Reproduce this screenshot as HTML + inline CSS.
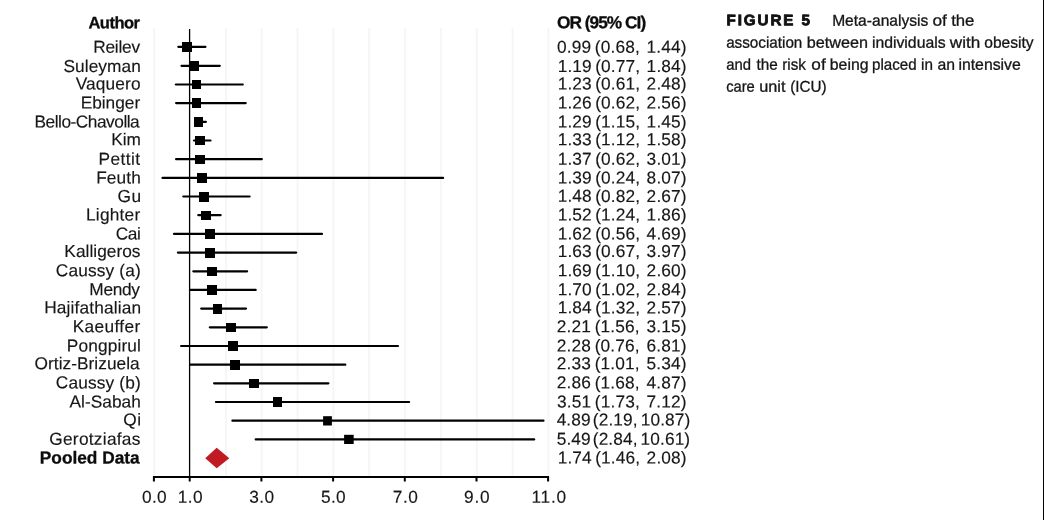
<!DOCTYPE html>
<html><head><meta charset="utf-8"><title>Figure 5</title>
<style>
html,body{margin:0;padding:0;background:#fff;}
body{width:1044px;height:520px;overflow:hidden;position:relative;}
svg{position:absolute;left:0;top:0;display:block;}
text{font-family:"Liberation Sans",sans-serif;fill:#161616;stroke:#161616;stroke-width:0.15px;font-size:17.3px;white-space:pre;}
.b{font-weight:bold;font-size:16.5px;fill:#0c0c0c;stroke:#0c0c0c;stroke-width:0.3px;stroke-linejoin:round;}
.b2{font-size:17.3px;}
.c{font-size:15.7px;fill:#151515;stroke:#151515;stroke-width:0.3px;}
.cb{font-size:15.2px;font-weight:bold;fill:#111;stroke:#111;stroke-width:0.85px;stroke-linejoin:round;}
</style></head><body>
<svg width="1044" height="520" viewBox="0 0 1044 520">
<rect width="1044" height="520" fill="#fff"/>

<line x1="154.2" y1="28" x2="154.2" y2="476" stroke="#f6f6f6" stroke-width="2"/>
<line x1="225.9" y1="28" x2="225.9" y2="476" stroke="#f6f6f6" stroke-width="2"/>
<line x1="261.7" y1="28" x2="261.7" y2="476" stroke="#f6f6f6" stroke-width="2"/>
<line x1="297.6" y1="28" x2="297.6" y2="476" stroke="#f6f6f6" stroke-width="2"/>
<line x1="333.4" y1="28" x2="333.4" y2="476" stroke="#f6f6f6" stroke-width="2"/>
<line x1="369.2" y1="28" x2="369.2" y2="476" stroke="#f6f6f6" stroke-width="2"/>
<line x1="405.1" y1="28" x2="405.1" y2="476" stroke="#f6f6f6" stroke-width="2"/>
<line x1="440.9" y1="28" x2="440.9" y2="476" stroke="#f6f6f6" stroke-width="2"/>
<line x1="476.8" y1="28" x2="476.8" y2="476" stroke="#f6f6f6" stroke-width="2"/>
<line x1="512.6" y1="28" x2="512.6" y2="476" stroke="#f6f6f6" stroke-width="2"/>
<line x1="548.4" y1="28" x2="548.4" y2="476" stroke="#f6f6f6" stroke-width="2"/>
<line x1="189.6" y1="29" x2="189.6" y2="477" stroke="#000" stroke-width="1.3"/>
<path d="M153.9 481.5V477H548.1V481.5" fill="none" stroke="#000" stroke-width="2"/>
<line x1="189.7" y1="477" x2="189.7" y2="481.5" stroke="#000" stroke-width="2"/>
<line x1="261.4" y1="477" x2="261.4" y2="481.5" stroke="#000" stroke-width="2"/>
<line x1="333.1" y1="477" x2="333.1" y2="481.5" stroke="#000" stroke-width="2"/>
<line x1="404.8" y1="477" x2="404.8" y2="481.5" stroke="#000" stroke-width="2"/>
<line x1="476.5" y1="477" x2="476.5" y2="481.5" stroke="#000" stroke-width="2"/>
<line x1="178.3" y1="46.8" x2="205.5" y2="46.8" stroke="#000" stroke-width="2.2" stroke-linecap="round"/>
<rect x="182" y="42" width="10.0" height="10.0" fill="#000"/>
<line x1="181.5" y1="65.8" x2="219.8" y2="65.8" stroke="#000" stroke-width="2.2" stroke-linecap="round"/>
<rect x="189" y="61" width="10.0" height="10.0" fill="#000"/>
<line x1="175.8" y1="84.5" x2="242.8" y2="84.5" stroke="#000" stroke-width="2.2" stroke-linecap="round"/>
<rect x="192" y="80" width="9.0" height="9.0" fill="#000"/>
<line x1="176.1" y1="103.1" x2="245.7" y2="103.1" stroke="#000" stroke-width="2.2" stroke-linecap="round"/>
<rect x="192" y="98" width="9.0" height="10.0" fill="#000"/>
<line x1="195.1" y1="121.8" x2="205.9" y2="121.8" stroke="#000" stroke-width="2.2" stroke-linecap="round"/>
<rect x="194" y="117" width="9.0" height="10.0" fill="#000"/>
<line x1="194.0" y1="140.5" x2="210.5" y2="140.5" stroke="#000" stroke-width="2.2" stroke-linecap="round"/>
<rect x="195" y="136" width="10.0" height="9.0" fill="#000"/>
<line x1="176.1" y1="159.2" x2="261.8" y2="159.2" stroke="#000" stroke-width="2.2" stroke-linecap="round"/>
<rect x="195" y="155" width="10.0" height="9.0" fill="#000"/>
<line x1="162.5" y1="177.9" x2="443.1" y2="177.9" stroke="#000" stroke-width="2.2" stroke-linecap="round"/>
<rect x="197" y="173" width="10.0" height="10.0" fill="#000"/>
<line x1="183.3" y1="196.5" x2="249.6" y2="196.5" stroke="#000" stroke-width="2.2" stroke-linecap="round"/>
<rect x="199" y="192" width="10.0" height="10.0" fill="#000"/>
<line x1="198.3" y1="215.2" x2="220.6" y2="215.2" stroke="#000" stroke-width="2.2" stroke-linecap="round"/>
<rect x="201" y="211" width="10.0" height="9.0" fill="#000"/>
<line x1="174.0" y1="233.9" x2="322.0" y2="233.9" stroke="#000" stroke-width="2.2" stroke-linecap="round"/>
<rect x="205" y="229" width="10.0" height="10.0" fill="#000"/>
<line x1="177.9" y1="252.6" x2="296.2" y2="252.6" stroke="#000" stroke-width="2.2" stroke-linecap="round"/>
<rect x="205" y="248" width="10.0" height="10.0" fill="#000"/>
<line x1="193.3" y1="271.3" x2="247.1" y2="271.3" stroke="#000" stroke-width="2.2" stroke-linecap="round"/>
<rect x="207" y="267" width="10.0" height="9.0" fill="#000"/>
<line x1="190.5" y1="289.9" x2="255.7" y2="289.9" stroke="#000" stroke-width="2.2" stroke-linecap="round"/>
<rect x="207" y="285" width="10.0" height="10.0" fill="#000"/>
<line x1="201.2" y1="308.6" x2="246.0" y2="308.6" stroke="#000" stroke-width="2.2" stroke-linecap="round"/>
<rect x="213" y="304" width="9.0" height="10.0" fill="#000"/>
<line x1="209.8" y1="327.3" x2="266.8" y2="327.3" stroke="#000" stroke-width="2.2" stroke-linecap="round"/>
<rect x="226" y="323" width="10.0" height="9.0" fill="#000"/>
<line x1="181.1" y1="346.0" x2="398.0" y2="346.0" stroke="#000" stroke-width="2.2" stroke-linecap="round"/>
<rect x="228" y="341" width="10.0" height="10.0" fill="#000"/>
<line x1="190.1" y1="364.7" x2="345.3" y2="364.7" stroke="#000" stroke-width="2.2" stroke-linecap="round"/>
<rect x="230" y="360" width="10.0" height="10.0" fill="#000"/>
<line x1="214.1" y1="383.3" x2="328.4" y2="383.3" stroke="#000" stroke-width="2.2" stroke-linecap="round"/>
<rect x="249" y="379" width="10.0" height="9.0" fill="#000"/>
<line x1="215.9" y1="402.0" x2="409.1" y2="402.0" stroke="#000" stroke-width="2.2" stroke-linecap="round"/>
<rect x="273" y="397" width="9.0" height="10.0" fill="#000"/>
<line x1="232.4" y1="420.7" x2="543.5" y2="420.7" stroke="#000" stroke-width="2.2" stroke-linecap="round"/>
<rect x="323.1" y="416.2" width="8.8" height="9.3" fill="#000"/>
<line x1="255.7" y1="439.4" x2="534.2" y2="439.4" stroke="#000" stroke-width="2.2" stroke-linecap="round"/>
<rect x="344.1" y="434.8" width="9.6" height="9.2" fill="#000"/>
<polygon points="205.2,458.2 216.7,447.7 229.3,458.2 216.7,468.3" fill="#c01a22"/>
<text id="LH" class="b" transform="rotate(0.03 114 28)" x="88.45" y="28.20" letter-spacing="-0.500">Author</text>
<text id="RH" class="b b2" transform="rotate(0.03 602 28)" x="557.00" y="28.20" letter-spacing="-0.975">OR (95% CI)</text>
<text id="L0" transform="rotate(0.03 117 53)" x="93.25" y="52.80" letter-spacing="-0.250">Reilev</text>
<text id="R0" transform="rotate(0.03 622 53)" x="557.00" y="52.80" letter-spacing="0.150" word-spacing="0.125">0.99<tspan dx="-1.5"> (0.68,</tspan><tspan dx="1.5"> 1.44)</tspan></text>
<text id="L1" transform="rotate(0.03 102 72)" x="63.45" y="72.10" letter-spacing="0.071">Suleyman</text>
<text id="R1" transform="rotate(0.03 622 72)" x="557.65" y="72.10" letter-spacing="0.150" word-spacing="-0.125">1.19<tspan dx="-1.5"> (0.77,</tspan><tspan dx="1.5"> 1.84)</tspan></text>
<text id="L2" transform="rotate(0.03 108 90)" x="75.70" y="89.60" letter-spacing="0.125">Vaquero</text>
<text id="R2" transform="rotate(0.03 622 90)" x="557.65" y="89.60" letter-spacing="0.150" word-spacing="-0.125">1.23<tspan dx="-1.5"> (0.61,</tspan><tspan dx="1.5"> 2.48)</tspan></text>
<text id="L3" transform="rotate(0.03 111 109)" x="80.65" y="108.60" letter-spacing="0.000">Ebinger</text>
<text id="R3" transform="rotate(0.03 622 109)" x="557.65" y="108.60" letter-spacing="0.150" word-spacing="-0.125">1.26<tspan dx="-1.5"> (0.62,</tspan><tspan dx="1.5"> 2.56)</tspan></text>
<text id="L4" transform="rotate(0.03 88 128)" x="34.55" y="127.55" letter-spacing="-0.481">Bello-Chavolla</text>
<text id="R4" transform="rotate(0.03 622 128)" x="557.65" y="127.55" letter-spacing="0.150" word-spacing="-0.125">1.29<tspan dx="-1.5"> (1.15,</tspan><tspan dx="1.5"> 1.45)</tspan></text>
<text id="L5" transform="rotate(0.03 126 145)" x="111.25" y="145.25" letter-spacing="0.000">Kim</text>
<text id="R5" transform="rotate(0.03 622 145)" x="557.65" y="145.25" letter-spacing="0.150" word-spacing="-0.125">1.33<tspan dx="-1.5"> (1.12,</tspan><tspan dx="1.5"> 1.58)</tspan></text>
<text id="L6" transform="rotate(0.03 120 165)" x="98.55" y="164.80" letter-spacing="0.400">Pettit</text>
<text id="R6" transform="rotate(0.03 622 165)" x="557.65" y="164.80" letter-spacing="0.150" word-spacing="-0.125">1.37<tspan dx="-1.5"> (0.62,</tspan><tspan dx="1.5"> 3.01)</tspan></text>
<text id="L7" transform="rotate(0.03 119 184)" x="96.15" y="183.50" letter-spacing="0.125">Feuth</text>
<text id="R7" transform="rotate(0.03 622 184)" x="557.65" y="183.50" letter-spacing="0.150" word-spacing="-0.125">1.39<tspan dx="-1.5"> (0.24,</tspan><tspan dx="1.5"> 8.07)</tspan></text>
<text id="L8" transform="rotate(0.03 129 202)" x="117.55" y="201.90" letter-spacing="0.500">Gu</text>
<text id="R8" transform="rotate(0.03 622 202)" x="557.65" y="201.90" letter-spacing="0.150" word-spacing="-0.125">1.48<tspan dx="-1.5"> (0.82,</tspan><tspan dx="1.5"> 2.67)</tspan></text>
<text id="L9" transform="rotate(0.03 114 220)" x="86.05" y="220.50" letter-spacing="0.208">Lighter</text>
<text id="R9" transform="rotate(0.03 622 220)" x="557.65" y="220.50" letter-spacing="0.150" word-spacing="-0.125">1.52<tspan dx="-1.5"> (1.24,</tspan><tspan dx="1.5"> 1.86)</tspan></text>
<text id="L10" transform="rotate(0.03 128 239)" x="115.75" y="239.45" letter-spacing="-0.375">Cai</text>
<text id="R10" transform="rotate(0.03 622 239)" x="557.65" y="239.45" letter-spacing="0.150" word-spacing="-0.125">1.62<tspan dx="-1.5"> (0.56,</tspan><tspan dx="1.5"> 4.69)</tspan></text>
<text id="L11" transform="rotate(0.03 103 257)" x="64.35" y="257.00" letter-spacing="0.028">Kalligeros</text>
<text id="R11" transform="rotate(0.03 622 257)" x="557.65" y="257.00" letter-spacing="0.150" word-spacing="-0.125">1.63<tspan dx="-1.5"> (0.67,</tspan><tspan dx="1.5"> 3.97)</tspan></text>
<text id="L12" transform="rotate(0.03 98 276)" x="55.75" y="276.30" letter-spacing="0.167">Caussy (a)</text>
<text id="R12" transform="rotate(0.03 622 276)" x="557.65" y="276.30" letter-spacing="0.150" word-spacing="-0.125">1.69<tspan dx="-1.5"> (1.10,</tspan><tspan dx="1.5"> 2.60)</tspan></text>
<text id="L13" transform="rotate(0.03 115 295)" x="89.35" y="295.35" letter-spacing="-0.312">Mendy</text>
<text id="R13" transform="rotate(0.03 622 295)" x="557.65" y="295.35" letter-spacing="0.150" word-spacing="-0.125">1.70<tspan dx="-1.5"> (1.02,</tspan><tspan dx="1.5"> 2.84)</tspan></text>
<text id="L14" transform="rotate(0.03 93 313)" x="44.15" y="313.40" letter-spacing="0.146">Hajifathalian</text>
<text id="R14" transform="rotate(0.03 622 313)" x="557.65" y="313.40" letter-spacing="0.150" word-spacing="-0.125">1.84<tspan dx="-1.5"> (1.32,</tspan><tspan dx="1.5"> 2.57)</tspan></text>
<text id="L15" transform="rotate(0.03 107 332)" x="72.65" y="332.30" letter-spacing="0.357">Kaeuffer</text>
<text id="R15" transform="rotate(0.03 622 332)" x="556.75" y="332.30" letter-spacing="0.150" word-spacing="0.250">2.21<tspan dx="-1.5"> (1.56,</tspan><tspan dx="1.5"> 3.15)</tspan></text>
<text id="L16" transform="rotate(0.03 104 352)" x="66.85" y="351.55" letter-spacing="0.125">Pongpirul</text>
<text id="R16" transform="rotate(0.03 622 352)" x="556.75" y="351.55" letter-spacing="0.150" word-spacing="0.250">2.28<tspan dx="-1.5"> (0.76,</tspan><tspan dx="1.5"> 6.81)</tspan></text>
<text id="L17" transform="rotate(0.03 88 369)" x="34.55" y="369.30" letter-spacing="0.038">Ortiz-Brizuela</text>
<text id="R17" transform="rotate(0.03 622 369)" x="556.75" y="369.30" letter-spacing="0.150" word-spacing="0.250">2.33<tspan dx="-1.5"> (1.01,</tspan><tspan dx="1.5"> 5.34)</tspan></text>
<text id="L18" transform="rotate(0.03 98 388)" x="55.75" y="388.40" letter-spacing="0.167">Caussy (b)</text>
<text id="R18" transform="rotate(0.03 622 388)" x="556.75" y="388.40" letter-spacing="0.150" word-spacing="0.250">2.86<tspan dx="-1.5"> (1.68,</tspan><tspan dx="1.5"> 4.87)</tspan></text>
<text id="L19" transform="rotate(0.03 105 408)" x="69.50" y="407.50" letter-spacing="0.036">Al-Sabah</text>
<text id="R19" transform="rotate(0.03 622 408)" x="557.00" y="407.50" letter-spacing="0.150" word-spacing="0.125">3.51<tspan dx="-1.5"> (1.73,</tspan><tspan dx="1.5"> 7.12)</tspan></text>
<text id="L20" transform="rotate(0.03 132 426)" x="123.25" y="425.60" letter-spacing="0.500">Qi</text>
<text id="R20" transform="rotate(0.03 623 426)" x="556.65" y="425.60" letter-spacing="0.100" word-spacing="-2.250">4.89<tspan dx="-0.5"> (2.19,</tspan><tspan dx="0.5"> 10.87)</tspan></text>
<text id="L21" transform="rotate(0.03 95 445)" x="49.25" y="444.75" letter-spacing="0.275">Gerotziafas</text>
<text id="R21" transform="rotate(0.03 623 445)" x="556.75" y="444.75" letter-spacing="0.100" word-spacing="-2.400">5.49<tspan dx="-0.5"> (2.84,</tspan><tspan dx="0.5"> 10.61)</tspan></text>
<text id="L22" class="b b2" transform="rotate(0.03 90 463)" x="39.80" y="463.48" letter-spacing="0.000">Pooled Data</text>
<text id="R22" transform="rotate(0.03 622 463)" x="557.65" y="463.48" letter-spacing="0.150" word-spacing="-0.125">1.74<tspan dx="-1.5"> (1.46,</tspan><tspan dx="1.5"> 2.08)</tspan></text>
<text id="T0" transform="rotate(0.03 154 503)" x="141.90" y="502.65" letter-spacing="0.375">0.0</text>
<text id="T1" transform="rotate(0.03 190 503)" x="177.65" y="502.65" letter-spacing="0.500">1.0</text>
<text id="T3" transform="rotate(0.03 262 503)" x="249.30" y="502.65" letter-spacing="0.375">3.0</text>
<text id="T5" transform="rotate(0.03 333 503)" x="320.95" y="502.65" letter-spacing="0.375">5.0</text>
<text id="T7" transform="rotate(0.03 406 503)" x="392.85" y="502.65" letter-spacing="0.500">7.0</text>
<text id="T9" transform="rotate(0.03 477 503)" x="464.05" y="502.65" letter-spacing="0.750">9.0</text>
<text id="T11" transform="rotate(0.03 549 503)" x="531.45" y="502.65" letter-spacing="0.750">11.0</text>
<text id="C0" class="c cb" transform="rotate(0.03 768 25)" x="726.50" y="25.35" textLength="83.50" lengthAdjust="spacing">FIGURE 5</text>
<text id="W0_0" class="c" transform="rotate(0.03 881 26)" x="832.15" y="25.75" textLength="96.15" lengthAdjust="spacingAndGlyphs">Meta-analysis</text>
<text id="W0_1" class="c" transform="rotate(0.03 940 26)" x="932.50" y="25.75" textLength="14.40" lengthAdjust="spacingAndGlyphs">of</text>
<text id="W0_2" class="c" transform="rotate(0.03 963 26)" x="951.15" y="25.75" textLength="23.30" lengthAdjust="spacingAndGlyphs">the</text>
<text id="W1_0" class="c" transform="rotate(0.03 764 48)" x="726.15" y="47.80" textLength="76.20" lengthAdjust="spacingAndGlyphs">association</text>
<text id="W1_1" class="c" transform="rotate(0.03 838 48)" x="806.80" y="47.80" textLength="61.25" lengthAdjust="spacingAndGlyphs">between</text>
<text id="W1_2" class="c" transform="rotate(0.03 909 48)" x="871.90" y="47.80" textLength="73.70" lengthAdjust="spacingAndGlyphs">individuals</text>
<text id="W1_3" class="c" transform="rotate(0.03 965 48)" x="949.80" y="47.80" textLength="30.40" lengthAdjust="spacingAndGlyphs">with</text>
<text id="W1_4" class="c" transform="rotate(0.03 1009 48)" x="984.30" y="47.80" textLength="49.35" lengthAdjust="spacingAndGlyphs">obesity</text>
<text id="W2_0" class="c" transform="rotate(0.03 739 70)" x="726.15" y="69.85" textLength="24.80" lengthAdjust="spacingAndGlyphs">and</text>
<text id="W2_1" class="c" transform="rotate(0.03 767 70)" x="756.50" y="69.85" textLength="21.30" lengthAdjust="spacingAndGlyphs">the</text>
<text id="W2_2" class="c" transform="rotate(0.03 795 70)" x="782.30" y="69.85" textLength="23.55" lengthAdjust="spacingAndGlyphs">risk</text>
<text id="W2_3" class="c" transform="rotate(0.03 819 70)" x="811.35" y="69.85" textLength="14.35" lengthAdjust="spacingAndGlyphs">of</text>
<text id="W2_4" class="c" transform="rotate(0.03 849 70)" x="829.80" y="69.85" textLength="38.70" lengthAdjust="spacingAndGlyphs">being</text>
<text id="W2_5" class="c" transform="rotate(0.03 894 70)" x="872.10" y="69.85" textLength="44.55" lengthAdjust="spacingAndGlyphs">placed</text>
<text id="W2_6" class="c" transform="rotate(0.03 927 70)" x="921.00" y="69.85" textLength="11.90" lengthAdjust="spacingAndGlyphs">in</text>
<text id="W2_7" class="c" transform="rotate(0.03 946 70)" x="937.50" y="69.85" textLength="17.55" lengthAdjust="spacingAndGlyphs">an</text>
<text id="W2_8" class="c" transform="rotate(0.03 990 70)" x="958.40" y="69.85" textLength="62.40" lengthAdjust="spacingAndGlyphs">intensive</text>
<text id="W3_0" class="c" transform="rotate(0.03 741 92)" x="726.15" y="91.85" textLength="28.65" lengthAdjust="spacingAndGlyphs">care</text>
<text id="W3_1" class="c" transform="rotate(0.03 773 92)" x="759.30" y="91.85" textLength="26.20" lengthAdjust="spacingAndGlyphs">unit</text>
<text id="W3_2" class="c" transform="rotate(0.03 809 92)" x="790.30" y="91.85" textLength="36.40" lengthAdjust="spacingAndGlyphs">(ICU)</text>
<rect x="1043" y="0" width="1" height="520" fill="#000"/>
</svg></body></html>
